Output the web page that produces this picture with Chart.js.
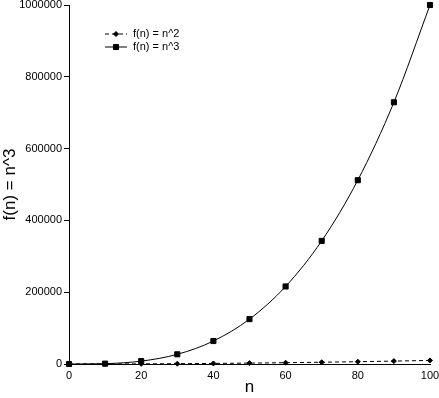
<!DOCTYPE html>
<html>
<head>
<meta charset="utf-8">
<script src="https://cdn.jsdelivr.net/npm/chart.js@4.4.0/dist/chart.umd.min.js"></script>
<style>
  html, body { margin: 0; padding: 0; background: #fff; }
  #wrap { width: 439px; height: 398px; }
</style>
</head>
<body>
<div id="wrap"><canvas id="growthChart"></canvas></div>
<script>
// ====== DATA ======
const nValues = [0, 10, 20, 30, 40, 50, 60, 70, 80, 90, 100];
const squareValues = [0, 100, 400, 900, 1600, 2500, 3600, 4900, 6400, 8100, 10000];
const cubeValues = [0, 1000, 8000, 27000, 64000, 125000, 216000, 343000, 512000, 729000, 1000000];
const seriesLabels = ['f(n) = n^2', 'f(n) = n^3'];

function toPoints(ys) {
    return nValues.map((x, i) => ({ x: x, y: ys[i] }));
}

// legend drawn inside the plot, top-left
const innerLegend = {
    id: 'innerLegend',
    afterDraw(chart) {
        const ctx = chart.ctx;
        const x0 = 105, y0 = 34, rowH = 13;
        ctx.save();
        ctx.font = '11px "Liberation Sans", Arial, sans-serif';
        ctx.textBaseline = 'middle';
        ctx.fillStyle = '#000';
        chart.data.datasets.forEach((ds, i) => {
            const y = y0 + i * rowH;
            ctx.strokeStyle = '#000';
            ctx.lineWidth = 1;
            ctx.setLineDash(ds.borderDash || []);
            ctx.beginPath();
            ctx.moveTo(x0, y);
            ctx.lineTo(x0 + 22, y);
            ctx.stroke();
            ctx.setLineDash([]);
            Chart.helpers.drawPoint(ctx, {
                pointStyle: ds.pointStyle, radius: ds.pointRadius, borderWidth: 1
            }, x0 + 11, y);
            ctx.fillText(ds.label, x0 + 28, y);
        });
        ctx.restore();
    }
};

document.addEventListener('DOMContentLoaded', function () {
    Chart.defaults.font.family = '"Liberation Sans", Arial, sans-serif';
    Chart.defaults.color = '#000';

    const ctx = document.getElementById('growthChart').getContext('2d');
    new Chart(ctx, {
        type: 'line',
        data: {
            datasets: [
                {
                    label: seriesLabels[0], data: toPoints(squareValues),
                    borderColor: '#000', backgroundColor: '#000', borderWidth: 1,
                    borderDash: [4, 3], pointStyle: 'rectRot', pointRadius: 2.5,
                    fill: false, tension: 0, clip: false
                },
                {
                    label: seriesLabels[1], data: toPoints(cubeValues),
                    borderColor: '#000', backgroundColor: '#000', borderWidth: 1,
                    pointStyle: 'rect', pointRadius: 3.6,
                    fill: false, cubicInterpolationMode: 'monotone', clip: false
                }
            ]
        },
        options: {
            responsive: true,
            maintainAspectRatio: false,
            animation: false,
            layout: { padding: { top: 2, right: 0, left: 0, bottom: 0 } },
            plugins: { legend: { display: false }, tooltip: { enabled: false } },
            scales: {
                x: {
                    type: 'linear', min: 0, max: 100,
                    border: { color: '#000', width: 1 },
                    grid: { display: true, drawOnChartArea: false, drawTicks: false, color: '#000' },
                    ticks: { stepSize: 20, padding: 5, font: { size: 11 }, maxRotation: 0 },
                    title: { display: true, text: 'n', font: { size: 17 }, padding: { top: 0, bottom: 0 } },
                    afterFit: (scale) => { scale.height = 34; scale.paddingRight = 9; }
                },
                y: {
                    min: 0, max: 1000000,
                    border: { color: '#000', width: 1 },
                    grid: { drawOnChartArea: false, color: '#000', tickLength: 5 },
                    ticks: { stepSize: 200000, padding: 2, font: { size: 11 }, callback: (v) => String(v) },
                    title: { display: true, text: 'f(n) = n^3', font: { size: 17 }, padding: { top: 0, bottom: 2 } },
                    afterFit: (scale) => { scale.width = 69; scale.paddingTop = 3; }
                }
            }
        },
        plugins: [innerLegend]
    });
});
</script>
</body>
</html>
